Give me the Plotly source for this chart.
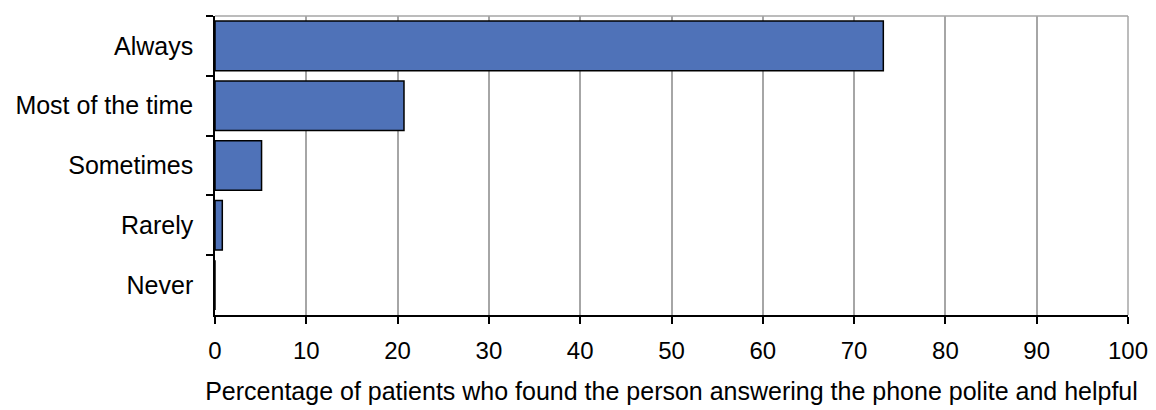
import plotly.graph_objects as go

categories = ['Always', 'Most of the time', 'Sometimes', 'Rarely', 'Never']
percentages = [73.2, 20.7, 5.1, 0.8, 0.0]
x_ticks = list(range(0, 101, 10))

FONT = 'Liberation Sans'

fig = go.Figure(go.Bar(
    x=percentages, y=categories, orientation='h',
    marker=dict(color='#4f72b8', line=dict(color='black', width=1.5)),
    width=0.83,
))

# the page body has an 8px margin, so the figure is shrunk by that much
fig.update_layout(
    width=1148, height=402,
    margin=dict(l=207, r=28, t=8, b=95),
    plot_bgcolor='white', paper_bgcolor='white',
    font=dict(family=FONT, size=21, color='black'),
    showlegend=False,
)
fig.update_xaxes(
    range=[0, 100], tickvals=x_ticks, showgrid=True, gridcolor='#a6a6a6', gridwidth=1.5,
    showline=True, linecolor='black', linewidth=1.5,
    ticks='outside', ticklen=7, tickcolor='black', tickwidth=1.5,
    zeroline=False, tickfont=dict(size=24), ticklabelstandoff=6,
    title=dict(text='Percentage of patients who found the person answering the phone polite and helpful',
               font=dict(size=25), standoff=20),
)
fig.update_yaxes(
    categoryorder='array', categoryarray=categories, autorange='reversed',
    showgrid=False, showline=True, linecolor='black', linewidth=1.5,
    ticks='outside', ticklen=7, tickcolor='black', tickwidth=1.5, tickson='boundaries',
    tickfont=dict(size=25), ticklabelstandoff=15,
)
# grey frame on top and right
fig.add_shape(type='line', xref='paper', yref='paper', x0=0, x1=1, y0=1, y1=1,
              line=dict(color='#a6a6a6', width=1.5))
fig.add_shape(type='line', xref='paper', yref='paper', x0=1, x1=1, y0=0, y1=1,
              line=dict(color='#a6a6a6', width=1.5))

fig.write_html('out.html')
